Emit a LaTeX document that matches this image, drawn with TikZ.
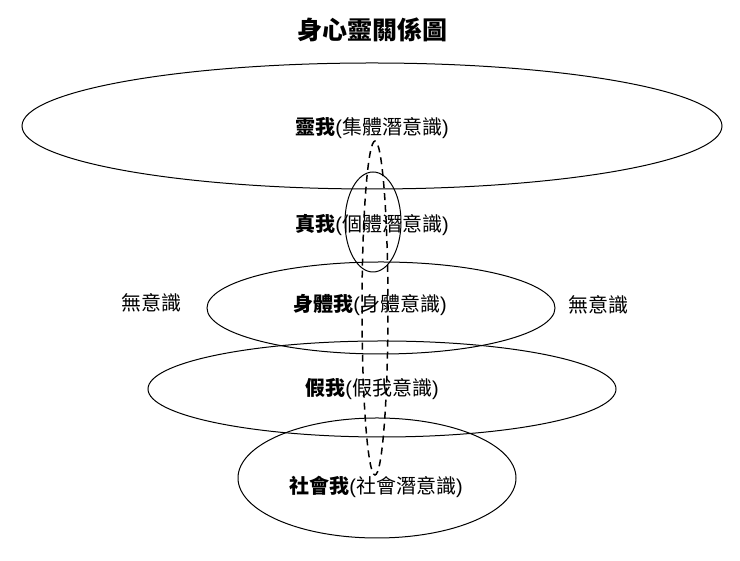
\documentclass[tikz,border=0pt]{standalone}
\usepackage{fontspec}
\setmainfont{Noto Sans CJK TC}
\newfontfamily\parfont{Liberation Sans}
\newcommand{\lp}{{\parfont(}}
\newcommand{\rp}{{\parfont)}}
\begin{document}
\begin{tikzpicture}[x=1pt,y=1pt,
  ell/.style={draw,line width=1pt},
  lbl/.style={font=\fontsize{20}{22}\selectfont}]
\useasboundingbox (0,0) rectangle (740,561);
\def\Y#1{561-#1}
\draw[ell] (372,{\Y{126}}) ellipse [x radius=350, y radius=63];
\draw[ell] (373,{\Y{222}}) ellipse [x radius=28, y radius=50];
\draw[ell] (381,{\Y{308}}) ellipse [x radius=174, y radius=46];
\draw[ell] (382,{\Y{389}}) ellipse [x radius=234, y radius=48];
\draw[ell] (377,{\Y{478}}) ellipse [x radius=139, y radius=60];
\draw[ell,dashed,dash pattern=on 7pt off 5pt,line width=1.5pt] (375,{\Y{308}}) ellipse [x radius=13, y radius=167];
\node[font=\fontsize{25}{28}\selectfont\bfseries] (t) at (372,{\Y{30}}) {身心靈關係圖};
\node[lbl] (a) at (372,{\Y{128}}) {\textbf{靈我}\lp 集體潛意識\rp};
\node[lbl] (b) at (372,{\Y{225}}) {\textbf{真我}\lp 個體潛意識\rp};
\node[lbl] (c) at (370,{\Y{305}}) {\textbf{身體我}\lp 身體意識\rp};
\node[lbl] (d) at (372,{\Y{389}}) {\textbf{假我}\lp 假我意識\rp};
\node[lbl] (e) at (376,{\Y{487}}) {\textbf{社會我}\lp 社會潛意識\rp};
\node[font=\fontsize{20}{22}\selectfont] (u1) at (151,{\Y{303}}) {無意識};
\node[font=\fontsize{20}{22}\selectfont] (u2) at (598,{\Y{305}}) {無意識};
\end{tikzpicture}
\end{document}
